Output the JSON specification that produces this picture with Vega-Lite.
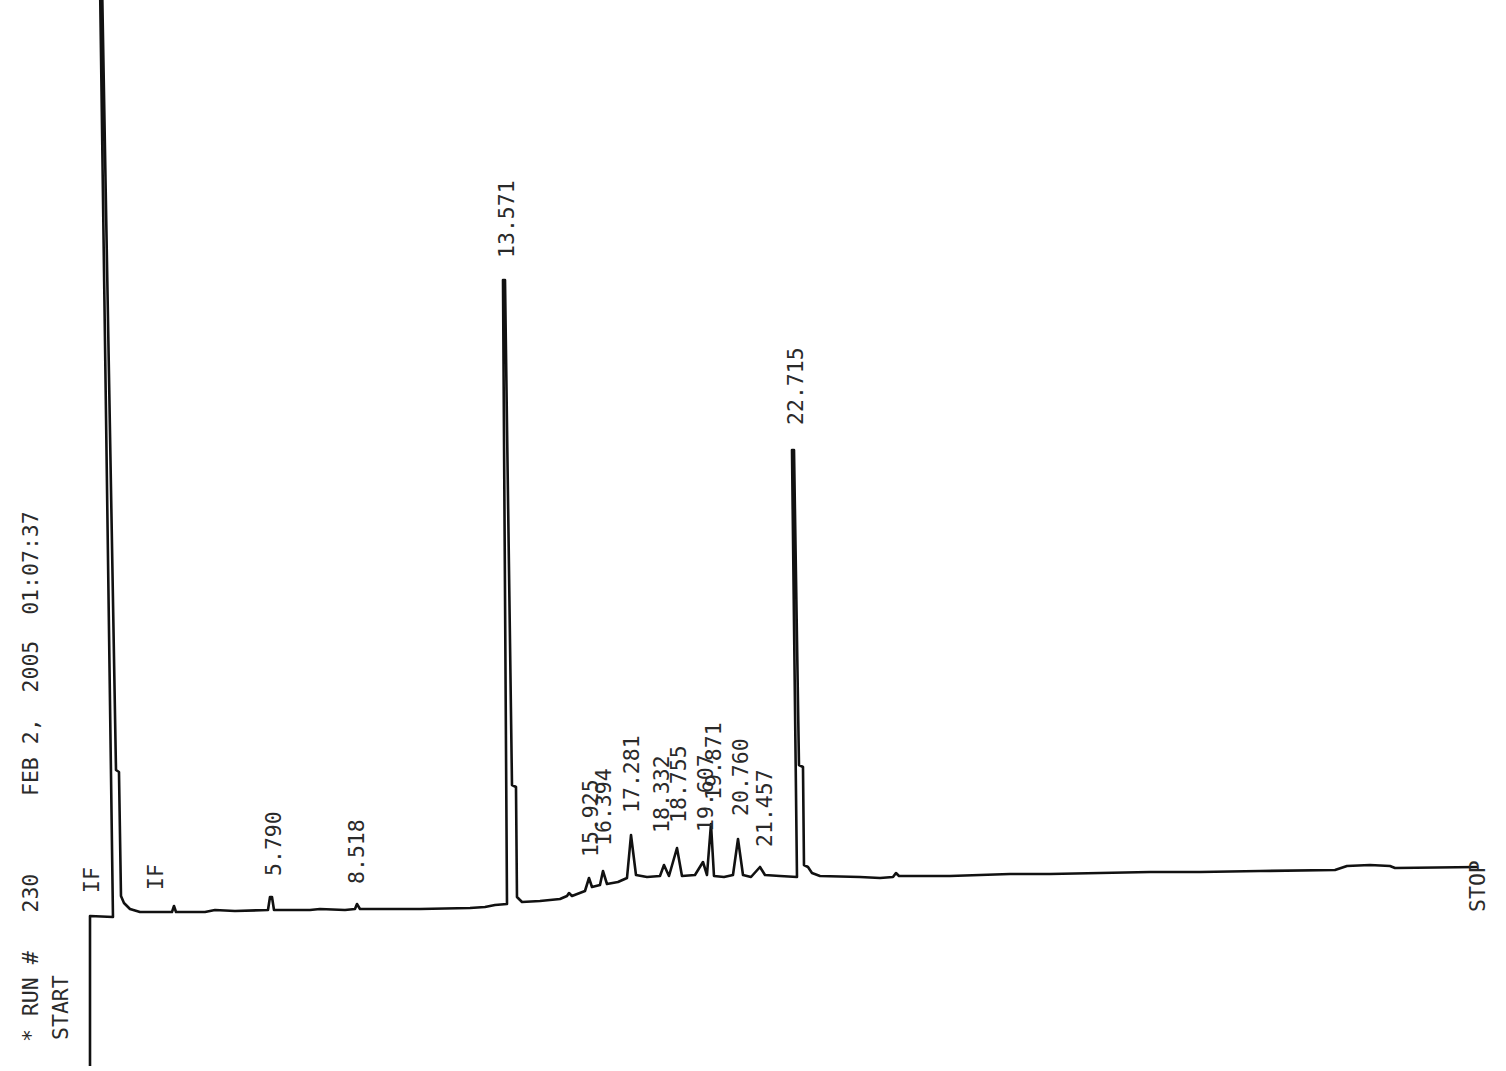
{
  "$schema": "https://vega.github.io/schema/vega-lite/v6.json",
  "width": 1506,
  "height": 1071,
  "autosize": {"type": "fit", "contains": "padding"},
  "padding": 0,
  "background": "white",
  "config": {"view": {"stroke": null}},
  "datasets": {
    "trace": [
      {"i": 1, "t": -0.097, "s": 5},
      {"i": 2, "t": -0.097, "s": 155},
      {"i": 3, "t": 0.649, "s": 154},
      {"i": 4, "t": 0.227, "s": 1091},
      {"i": 5, "t": 0.292, "s": 1091},
      {"i": 6, "t": 0.747, "s": 301},
      {"i": 7, "t": 0.844, "s": 299},
      {"i": 8, "t": 0.909, "s": 175},
      {"i": 9, "t": 1.006, "s": 168},
      {"i": 10, "t": 1.201, "s": 162},
      {"i": 11, "t": 1.526, "s": 159},
      {"i": 12, "t": 2.565, "s": 159},
      {"i": 13, "t": 2.630, "s": 165},
      {"i": 14, "t": 2.695, "s": 159},
      {"i": 15, "t": 3.636, "s": 159},
      {"i": 16, "t": 3.961, "s": 161},
      {"i": 17, "t": 4.610, "s": 160},
      {"i": 18, "t": 5.682, "s": 161},
      {"i": 19, "t": 5.747, "s": 174},
      {"i": 20, "t": 5.812, "s": 174},
      {"i": 21, "t": 5.877, "s": 161},
      {"i": 22, "t": 7.045, "s": 161},
      {"i": 23, "t": 7.370, "s": 162},
      {"i": 24, "t": 8.182, "s": 161},
      {"i": 25, "t": 8.506, "s": 162},
      {"i": 26, "t": 8.571, "s": 167},
      {"i": 27, "t": 8.669, "s": 162},
      {"i": 28, "t": 10.617, "s": 162},
      {"i": 29, "t": 12.240, "s": 163},
      {"i": 30, "t": 12.727, "s": 164},
      {"i": 31, "t": 13.052, "s": 166},
      {"i": 32, "t": 13.442, "s": 167},
      {"i": 33, "t": 13.312, "s": 791},
      {"i": 34, "t": 13.377, "s": 791},
      {"i": 35, "t": 13.604, "s": 286},
      {"i": 36, "t": 13.734, "s": 284},
      {"i": 37, "t": 13.766, "s": 174},
      {"i": 38, "t": 13.929, "s": 169},
      {"i": 39, "t": 14.513, "s": 170},
      {"i": 40, "t": 15.162, "s": 172},
      {"i": 41, "t": 15.390, "s": 175},
      {"i": 42, "t": 15.455, "s": 178},
      {"i": 43, "t": 15.552, "s": 175},
      {"i": 44, "t": 15.974, "s": 180},
      {"i": 45, "t": 16.104, "s": 193},
      {"i": 46, "t": 16.201, "s": 184},
      {"i": 47, "t": 16.461, "s": 186},
      {"i": 48, "t": 16.558, "s": 200},
      {"i": 49, "t": 16.688, "s": 187},
      {"i": 50, "t": 17.045, "s": 189},
      {"i": 51, "t": 17.338, "s": 193},
      {"i": 52, "t": 17.468, "s": 236},
      {"i": 53, "t": 17.630, "s": 196},
      {"i": 54, "t": 17.987, "s": 194},
      {"i": 55, "t": 18.409, "s": 195},
      {"i": 56, "t": 18.539, "s": 206},
      {"i": 57, "t": 18.701, "s": 195},
      {"i": 58, "t": 18.961, "s": 223},
      {"i": 59, "t": 19.123, "s": 195},
      {"i": 60, "t": 19.545, "s": 196},
      {"i": 61, "t": 19.805, "s": 209},
      {"i": 62, "t": 19.935, "s": 196},
      {"i": 63, "t": 20.065, "s": 247},
      {"i": 64, "t": 20.162, "s": 195},
      {"i": 65, "t": 20.487, "s": 194},
      {"i": 66, "t": 20.779, "s": 196},
      {"i": 67, "t": 20.942, "s": 232},
      {"i": 68, "t": 21.104, "s": 196},
      {"i": 69, "t": 21.364, "s": 194},
      {"i": 70, "t": 21.656, "s": 204},
      {"i": 71, "t": 21.818, "s": 196},
      {"i": 72, "t": 22.305, "s": 195},
      {"i": 73, "t": 22.857, "s": 194},
      {"i": 74, "t": 22.695, "s": 621},
      {"i": 75, "t": 22.760, "s": 621},
      {"i": 76, "t": 22.922, "s": 306},
      {"i": 77, "t": 23.052, "s": 304},
      {"i": 78, "t": 23.084, "s": 206},
      {"i": 79, "t": 23.214, "s": 204},
      {"i": 80, "t": 23.344, "s": 198},
      {"i": 81, "t": 23.604, "s": 195},
      {"i": 82, "t": 24.903, "s": 194},
      {"i": 83, "t": 25.552, "s": 193},
      {"i": 84, "t": 25.974, "s": 194},
      {"i": 85, "t": 26.071, "s": 198},
      {"i": 86, "t": 26.169, "s": 195},
      {"i": 87, "t": 27.825, "s": 195},
      {"i": 88, "t": 29.773, "s": 197},
      {"i": 89, "t": 31.071, "s": 197},
      {"i": 90, "t": 32.695, "s": 198},
      {"i": 91, "t": 34.318, "s": 199},
      {"i": 92, "t": 35.942, "s": 199},
      {"i": 93, "t": 37.890, "s": 200},
      {"i": 94, "t": 40.325, "s": 201},
      {"i": 95, "t": 40.714, "s": 205},
      {"i": 96, "t": 41.461, "s": 206},
      {"i": 97, "t": 42.110, "s": 205},
      {"i": 98, "t": 42.273, "s": 203},
      {"i": 99, "t": 44.968, "s": 204}
    ],
    "labels": [
      {"t": -1.981, "s": 29, "label": "* RUN #\u00a0\u00a0\u00a0230\u00a0\u00a0\u00a0\u00a0\u00a0\u00a0FEB 2,\u00a0\u00a02005\u00a0\u00a001:07:37"},
      {"t": -1.006, "s": 31, "label": "START"},
      {"t": 0.0, "s": 178, "label": "IF"},
      {"t": 2.078, "s": 181, "label": "IF"},
      {"t": 5.909, "s": 195, "label": "5.790"},
      {"t": 8.604, "s": 187, "label": "8.518"},
      {"t": 13.474, "s": 813, "label": "13.571"},
      {"t": 16.201, "s": 214, "label": "15.925"},
      {"t": 16.623, "s": 225, "label": "16.394"},
      {"t": 17.532, "s": 258, "label": "17.281"},
      {"t": 18.506, "s": 238, "label": "18.332"},
      {"t": 19.058, "s": 248, "label": "18.755"},
      {"t": 19.935, "s": 239, "label": "19.607"},
      {"t": 20.195, "s": 271, "label": "19.871"},
      {"t": 21.071, "s": 255, "label": "20.760"},
      {"t": 21.851, "s": 224, "label": "21.457"},
      {"t": 22.857, "s": 646, "label": "22.715"},
      {"t": 45.0, "s": 159, "label": "STOP"}
    ]
  },
  "layer": [
    {
      "data": {"name": "trace"},
      "mark": {"type": "line", "color": "#111111", "strokeWidth": 2.6, "clip": true, "strokeJoin": "round"},
      "encoding": {
        "x": {"field": "t", "type": "quantitative", "axis": null, "scale": {"domain": [-3.019, 45.877], "nice": false, "zero": false}},
        "y": {"field": "s", "type": "quantitative", "axis": null, "scale": {"domain": [0, 1071], "nice": false, "zero": false}},
        "order": {"field": "i", "type": "quantitative"}
      }
    },
    {
      "data": {"name": "labels"},
      "mark": {"type": "text", "angle": 270, "align": "left", "baseline": "middle", "font": "DejaVu Sans Mono", "fontSize": 21.5, "color": "#2a2a2a"},
      "encoding": {
        "x": {"field": "t", "type": "quantitative"},
        "y": {"field": "s", "type": "quantitative"},
        "text": {"field": "label", "type": "nominal"}
      }
    }
  ]
}
